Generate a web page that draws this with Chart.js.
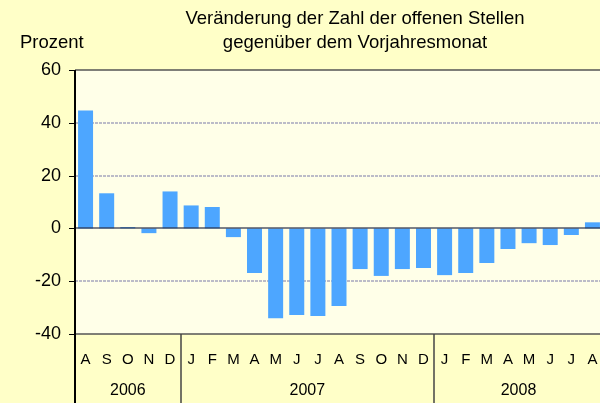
<!DOCTYPE html>
<html>
<head>
<meta charset="utf-8">
<script src="https://cdn.jsdelivr.net/npm/chart.js@4"></script>
<style>
  html, body { margin: 0; padding: 0; background: #FFFFC8; overflow: hidden; }
  #wrap { width: 600px; height: 403px; overflow: hidden; }
</style>
</head>
<body>
<div id="wrap"><canvas id="myChart" width="606" height="403"></canvas></div>
<script>
const monate = ['A','S','O','N','D','J','F','M','A','M','J','J','A','S','O','N','D','J','F','M','A','M','J','J','A'];
const jahre = ['2006', '2007', '2008'];
const monateProJahr = [5, 12, 8];
const werte = [44.7, 13.3, 0.5, -1.8, 14.0, 8.7, 8.1, -3.3, -16.9, -34.0, -32.8, -33.2, -29.4,
               -15.4, -18.0, -15.4, -15.0, -17.7, -16.9, -13.1, -7.8, -5.6, -6.3, -2.5, 2.3];
const yTicks = [-40, -20, 0, 20, 40, 60];

const schrift = '"Liberation Sans", Arial, sans-serif';

// Hintergrund, Gitter, Jahresachse und Titel selbst zeichnen
const extras = {
    id: 'extras',
    beforeDatasetsDraw(chart) {
        const { ctx, chartArea: a, scales: { y } } = chart;
        ctx.save();
        ctx.fillStyle = '#FFFFE8';
        ctx.fillRect(a.left, a.top, a.right - a.left, a.bottom - a.top);
        ctx.strokeStyle = '#bcbcc8';
        ctx.lineWidth = 2;
        ctx.setLineDash([3, 1]);
        [40, 20, -20].forEach(v => {
            const py = Math.round(y.getPixelForValue(v));
            ctx.beginPath();
            ctx.moveTo(a.left, py);
            ctx.lineTo(a.right, py);
            ctx.stroke();
        });
        ctx.setLineDash([]);
        ctx.strokeStyle = '#555';
        ctx.lineWidth = 1.5;
        [60, -40].forEach(v => {
            const py = Math.round(y.getPixelForValue(v));
            ctx.beginPath();
            ctx.moveTo(a.left, py);
            ctx.lineTo(a.right, py);
            ctx.stroke();
        });
        ctx.restore();
    },
    afterDatasetsDraw(chart) {
        const { ctx, chartArea: a, scales: { x, y } } = chart;
        ctx.save();
        // Nulllinie ueber den Balken
        const y0 = Math.round(y.getPixelForValue(0));
        ctx.strokeStyle = 'rgba(40,45,70,0.6)';
        ctx.lineWidth = 2;
        ctx.beginPath();
        ctx.moveTo(a.left, y0);
        ctx.lineTo(a.right, y0);
        ctx.stroke();

        // linke Achse bis ganz unten
        ctx.strokeStyle = '#000';
        ctx.lineWidth = 2;
        ctx.beginPath();
        ctx.moveTo(a.left, a.top);
        ctx.lineTo(a.left, chart.height);
        ctx.stroke();

        // Tickstriche links
        ctx.lineWidth = 1;
        yTicks.forEach(v => {
            const py = Math.round(y.getPixelForValue(v)) + 0.5;
            ctx.beginPath();
            ctx.moveTo(a.left - 6, py);
            ctx.lineTo(a.left, py);
            ctx.stroke();
        });

        // Jahrestrenner und Jahreszahlen
        const step = x.getPixelForValue(1) - x.getPixelForValue(0);
        let start = 0;
        ctx.fillStyle = '#000';
        ctx.font = '16px ' + schrift;
        ctx.textAlign = 'center';
        ctx.textBaseline = 'middle';
        jahre.forEach((j, i) => {
            const ende = start + monateProJahr[i] - 1;
            const xl = x.getPixelForValue(start) - step / 2;
            const xr = x.getPixelForValue(ende) + step / 2;
            ctx.fillText(j, (xl + xr) / 2, 391);
            if (i < jahre.length - 1) {
                ctx.strokeStyle = '#444';
                ctx.lineWidth = 1.5;
                ctx.beginPath();
                ctx.moveTo(Math.round(xr), a.bottom);
                ctx.lineTo(Math.round(xr), chart.height);
                ctx.stroke();
            }
            start = ende + 1;
        });

        // Titel und Einheit
        ctx.font = '18.5px ' + schrift;
        ctx.fillText('Veränderung der Zahl der offenen Stellen', 355, 19);
        ctx.fillText('gegenüber dem Vorjahresmonat', 355, 43);
        ctx.textAlign = 'left';
        ctx.fillText('Prozent', 20, 43);
        ctx.restore();
    }
};

const ctx = document.getElementById('myChart').getContext('2d');
new Chart(ctx, {
    type: 'bar',
    data: {
        labels: monate,
        datasets: [{
            data: werte,
            backgroundColor: '#4DA6FF',
            borderWidth: 0,
            categoryPercentage: 1,
            barPercentage: 0.71
        }]
    },
    options: {
        responsive: false,
        animation: false,
        layout: { padding: { top: 70, right: 3, left: 0, bottom: 0 } },
        plugins: { legend: { display: false }, tooltip: { enabled: false } },
        scales: {
            x: {
                grid: { display: false, drawTicks: false },
                border: { display: false },
                ticks: {
                    color: '#000',
                    font: { family: schrift, size: 15 },
                    padding: 17,
                    maxRotation: 0,
                    autoSkip: false
                },
                afterFit: s => { s.height = 69; s.paddingLeft = 0; s.paddingRight = 0; }
            },
            y: {
                min: -40,
                max: 60,
                grid: { display: false, drawTicks: false },
                border: { display: false },
                ticks: {
                    stepSize: 20,
                    color: '#000',
                    font: { family: schrift, size: 18 },
                    padding: 14
                },
                afterFit: s => { s.width = 75; s.paddingTop = 0; s.paddingBottom = 0; }
            }
        }
    },
    plugins: [extras]
});
</script>
</body>
</html>
